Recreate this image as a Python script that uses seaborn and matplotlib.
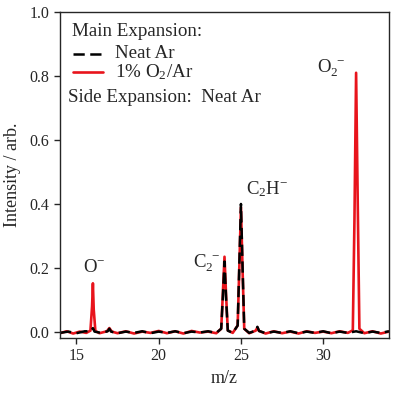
import numpy as np
import pandas as pd
import matplotlib
matplotlib.use("Agg")
import matplotlib.pyplot as plt
import seaborn as sns
from matplotlib.lines import Line2D

# hand-read spectrum points (m/z, intensity)
red_mz = [14.0, 14.4, 14.8, 15.2, 15.6, 15.85, 15.95, 16.0, 16.05, 16.15, 16.4,
          16.85, 17.0, 17.15, 17.5, 18.0, 18.5, 19.0, 19.5, 20.0, 20.5, 21.0,
          21.5, 22.0, 22.5, 23.0, 23.5, 23.8, 23.9, 24.0, 24.1, 24.2, 24.5,
          24.8, 24.9, 25.0, 25.1, 25.2, 25.5, 25.9, 26.0, 26.1, 26.5, 27.0,
          27.5, 28.0, 28.5, 29.0, 29.5, 30.0, 30.5, 31.0, 31.5, 31.8, 31.9,
          32.0, 32.1, 32.2, 32.5, 33.0, 33.5, 34.0]
red_int = [-0.004, 0.002, -0.005, 0.001, -0.003, 0.004, 0.08, 0.152, 0.07, 0.003, -0.004,
           0.002, 0.012, 0.001, -0.004, 0.002, -0.005, 0.001, -0.003, 0.003, -0.004, 0.002,
           -0.005, 0.003, -0.002, 0.001, -0.004, 0.01, 0.12, 0.235, 0.11, 0.005, -0.003,
           0.02, 0.2, 0.39, 0.19, 0.01, -0.004, 0.004, 0.014, 0.003, -0.005, 0.002,
           -0.004, 0.001, -0.005, 0.002, -0.003, 0.001, -0.004, 0.002, -0.003, 0.005, 0.35,
           0.81, 0.4, 0.01, -0.004, 0.002, -0.005, 0.001]

black_mz = [14.0, 14.5, 15.0, 15.5, 15.9, 16.0, 16.1, 16.5, 16.9, 17.0, 17.1,
            17.5, 18.0, 18.5, 19.0, 19.5, 20.0, 20.5, 21.0, 21.5, 22.0, 22.5,
            23.0, 23.5, 23.8, 23.9, 24.0, 24.1, 24.2, 24.5, 24.8, 24.9, 25.0,
            25.1, 25.2, 25.5, 25.9, 26.0, 26.1, 26.5, 27.0, 27.5, 28.0, 28.5,
            29.0, 29.5, 30.0, 30.5, 31.0, 31.5, 32.0, 32.5, 33.0, 33.5, 34.0]
black_int = [-0.003, 0.001, -0.004, 0.002, 0.002, 0.012, 0.001, -0.003, 0.002, 0.01, 0.001,
             -0.004, 0.001, -0.003, 0.002, -0.004, 0.001, -0.003, 0.002, -0.004, 0.001, -0.002,
             0.002, -0.003, 0.01, 0.11, 0.22, 0.1, 0.004, -0.003, 0.02, 0.21, 0.40,
             0.2, 0.01, -0.003, 0.004, 0.016, 0.003, -0.004, 0.001, -0.003, 0.002, -0.004,
             0.001, -0.003, 0.002, -0.004, 0.001, -0.003, 0.002, -0.004, 0.001, -0.003, 0.002]

peak_labels = ["O$^{-}$", "C$_2^{\\ -}$", "C$_2$H$^{-}$", "O$_2^{\\ -}$"]
peak_label_x = [16.1, 22.9, 26.6, 30.5]
peak_label_y = [0.2, 0.215, 0.445, 0.825]

red = pd.DataFrame({"mz": red_mz, "intensity": red_int})
black = pd.DataFrame({"mz": black_mz, "intensity": black_int})

sns.set_style("ticks")
plt.rcParams["font.family"] = ["Liberation Serif", "DejaVu Serif"]
plt.rcParams["mathtext.fontset"] = "custom"
plt.rcParams["mathtext.rm"] = "Liberation Serif"
plt.rcParams["mathtext.it"] = "Liberation Serif"

red_col = "#e8141c"
dash = (0, (4.5, 2.2))

fig = plt.figure(figsize=(3.94, 3.94), dpi=100)
ax = fig.add_axes([60 / 394, 56 / 394, 329 / 394, 326 / 394])

sns.lineplot(data=red, x="mz", y="intensity", ax=ax, color=red_col, lw=1.9,
             estimator=None, sort=False)
sns.lineplot(data=black, x="mz", y="intensity", ax=ax, color="black", lw=1.8,
             estimator=None, sort=False, linestyle=dash)

ax.set_xlim(14, 34)
ax.set_ylim(-0.019, 1.0)
ax.set_xticks([15, 20, 25, 30])
ax.set_yticks([0.0, 0.2, 0.4, 0.6, 0.8, 1.0])
ax.set_yticklabels(["0.0", "0.2", "0.4", "0.6", "0.8", "1.0"])
ax.tick_params(labelsize=11.5, direction="out", length=4, width=1)
for s in ax.spines.values():
    s.set_linewidth(1)
    s.set_visible(True)
ax.set_xlabel("m/z", fontsize=13, labelpad=4)
ax.set_ylabel("Intensity / arb.", fontsize=13, labelpad=6)

for lab, lx, ly in zip(peak_labels, peak_label_x, peak_label_y):
    ax.text(lx, ly, lab, fontsize=13.5, ha="center", va="center")

# legend block drawn by hand
fs = 13.7
ax.text(0.036, 0.939, "Main Expansion:", transform=ax.transAxes, fontsize=fs, va="center")
ax.add_line(Line2D([0.04, 0.128], [0.871, 0.871], transform=ax.transAxes, color="black",
                   lw=1.8, linestyle=dash))
ax.text(0.167, 0.874, "Neat Ar", transform=ax.transAxes, fontsize=fs, va="center")
ax.add_line(Line2D([0.04, 0.13], [0.816, 0.816], transform=ax.transAxes, color=red_col, lw=1.9))
ax.text(0.167, 0.814, "1% O$_2$/Ar", transform=ax.transAxes, fontsize=fs, va="center")
ax.text(0.025, 0.739, "Side Expansion:  Neat Ar", transform=ax.transAxes, fontsize=fs, va="center")

fig.savefig("out.png", dpi=100)
